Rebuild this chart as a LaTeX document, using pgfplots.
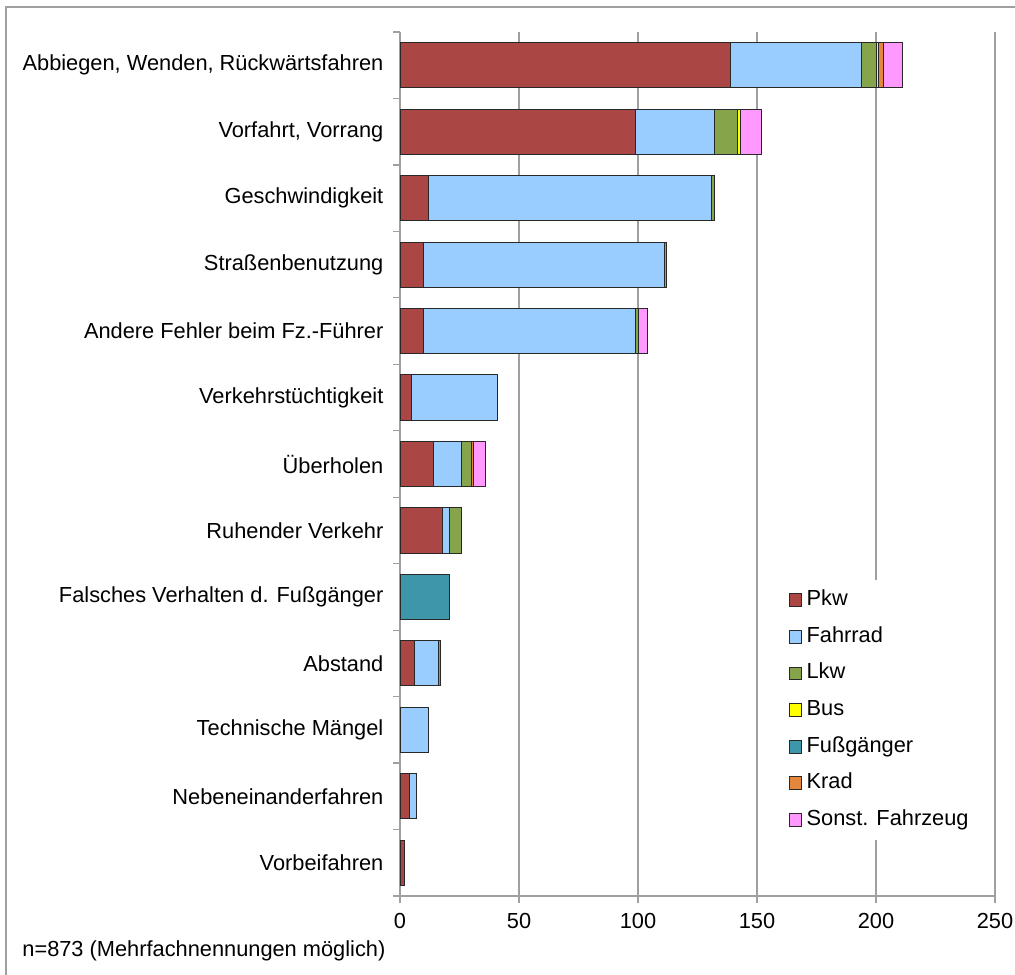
\documentclass[border=0pt]{standalone}
\usepackage{fontspec}
\setmainfont{Liberation Sans}
\usepackage{pgfplots}
\usepackage{pgfplotstable}
\pgfplotsset{compat=1.18}
\definecolor{cPkw}{RGB}{170,70,68}
\definecolor{cRad}{RGB}{153,204,255}
\definecolor{cLkw}{RGB}{134,164,74}
\definecolor{cBus}{RGB}{255,255,0}
\definecolor{cFuss}{RGB}{62,150,170}
\definecolor{cKrad}{RGB}{228,135,60}
\definecolor{cSonst}{RGB}{255,153,255}
\definecolor{cGrid}{RGB}{160,160,160}
\definecolor{cEdge}{RGB}{40,40,40}
\pgfplotstableread{
y Pkw Rad Lkw Bus Fuss Krad Sonst
0 2 0 0 0 0 0 0
1 4 3 0 0 0 0 0
2 0 12 0 0 0 0 0
3 6 10 1 0 0 0 0
4 0 0 0 0 21 0 0
5 18 3 5 0 0 0 0
6 14 12 4 0 0 1 5
7 5 36 0 0 0 0 0
8 10 89 1 0 0 0 4
9 10 101 0 0 0 1 0
10 12 119 1 0 0 0 0
11 99 33 10 1 0 0 9
12 139 55 6 1 0 2 8
}\datatable
\begin{document}
\fontsize{10.9}{13}\selectfont
\begin{tikzpicture}
\useasboundingbox (0,0) rectangle (507.5pt,487pt);
\draw[cGrid, line width=0.8pt] (3pt,-5pt) -- (3pt,483.5pt) -- (520pt,483.5pt);
\begin{axis}[
  at={(200pt,39pt)}, anchor=south west,
  scale only axis, width=297.5pt, height=432pt,
  xbar stacked, bar width=0.68,
  xmin=0, xmax=250, ymin=-0.5, ymax=12.5,
  xtick={0,50,...,250},
  ytick={0,...,12},
  minor ytick={-0.5,0.5,...,12.5},
  yticklabels={Vorbeifahren, Nebeneinanderfahren, Technische Mängel, Abstand, Falsches Verhalten d. Fußgänger, Ruhender Verkehr, Überholen, Verkehrstüchtigkeit, Andere Fehler beim Fz.-Führer, Straßenbenutzung, Geschwindigkeit, {Vorfahrt, Vorrang}, {Abbiegen, Wenden, Rückwärtsfahren}},
  axis x line*=bottom, axis y line*=left,
  axis line style={cGrid, line width=0.6pt, -},
  tick align=outside, major tick length=3.5pt, minor tick length=3.5pt,
  major y tick style={draw=none},
  minor y tick style={cGrid, line width=0.6pt},
  major x tick style={cGrid, line width=0.6pt},
  xmajorgrids, grid style={cGrid, line width=0.6pt},
  /pgf/number format/assume math mode=true,
  tick label style={font=\fontsize{10.9}{13}\selectfont, text=black},
  yticklabel style={xshift=-1pt},
  xticklabel style={yshift=-1.5pt},
  every axis plot/.append style={draw=cEdge, line width=0.5pt},
  legend style={at={(0.639,0.366)}, anchor=north west, draw=none, fill=white,
    font=\fontsize{10.9}{13}\selectfont, row sep=6.3pt, inner xsep=4pt, inner ysep=4pt,
    nodes={text height=7.8pt, text depth=2.2pt, inner sep=1pt}},
  legend cell align=left,
  legend image code/.code={\draw[#1, line width=0.4pt] (0pt,-3.2pt) rectangle (6.4pt,3.2pt); \path[draw=none, fill=none] (0pt,0pt) -- (7.8pt,0pt);},
]
\addplot[fill=cPkw] table[x=Pkw, y=y] {\datatable};
\addplot[fill=cRad] table[x=Rad, y=y] {\datatable};
\addplot[fill=cLkw] table[x=Lkw, y=y] {\datatable};
\addplot[fill=cBus] table[x=Bus, y=y] {\datatable};
\addplot[fill=cFuss] table[x=Fuss, y=y] {\datatable};
\addplot[fill=cKrad] table[x=Krad, y=y] {\datatable};
\addplot[fill=cSonst] table[x=Sonst, y=y] {\datatable};
\legend{Pkw, Fahrrad, Lkw, Bus, Fußgänger, Krad, Sonst. Fahrzeug}
\end{axis}
\node[anchor=west, inner sep=0pt] at (11pt,11.5pt) {n=873 (Mehrfachnennungen möglich)};
\end{tikzpicture}
\end{document}
